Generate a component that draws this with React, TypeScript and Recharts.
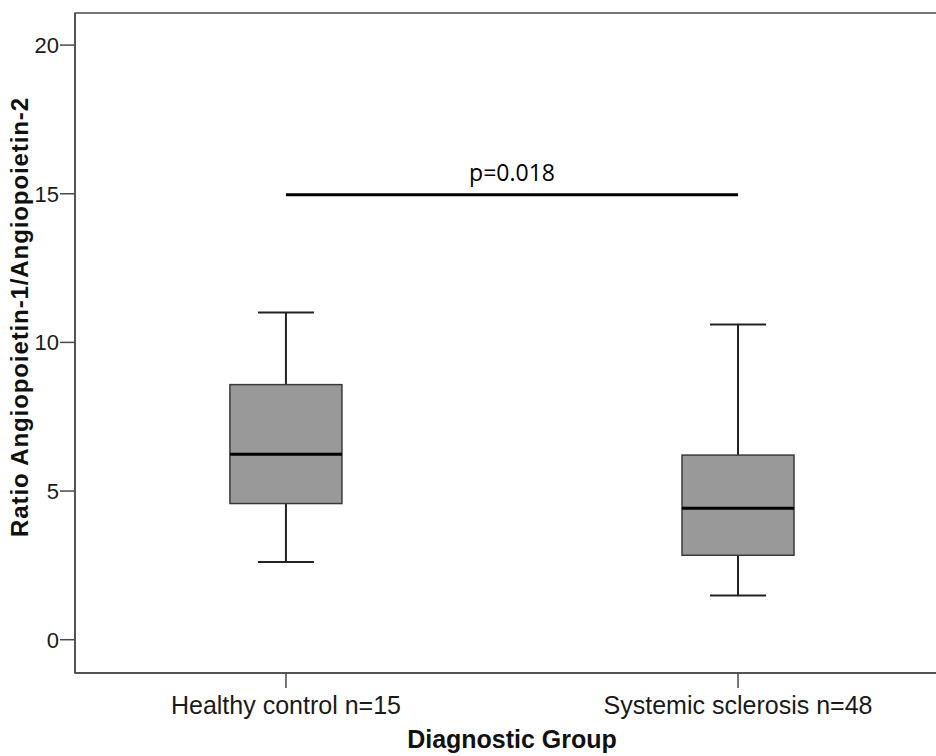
import React from 'react';
import { ComposedChart, Bar, XAxis, YAxis, ReferenceLine, ReferenceArea } from 'recharts';

// Group labels and their positions on the numeric x axis
const groups = ['Healthy control n=15', 'Systemic sclerosis n=48'];
const groupPos = [1, 2];

// Five-number summaries for each group
const whiskerLow = [2.61, 1.49];
const quartile1 = [4.58, 2.84];
const medians = [6.24, 4.42];
const quartile3 = [8.58, 6.21];
const whiskerHigh = [11.01, 10.6];

const yTicks = [0, 5, 10, 15, 20];
const yDomain: [number, number] = [-1.12, 21.08];
const xDomain: [number, number] = [0.5333, 2.4667];

// Significance bracket
const pLabel = 'p=0.018';
const bracketY = 14.97;

const data = groups.map((name, i) => ({
  name,
  x: groupPos[i],
  lo: whiskerLow[i],
  q1: quartile1[i],
  med: medians[i],
  q3: quartile3[i],
  hi: whiskerHigh[i],
}));

const AXIS = '#4a4a4a';
const TICK_FONT = 'Liberation Sans, Arial, Helvetica, sans-serif';

// Draws whiskers, box and median inside the bar spanning [lo, hi]
const BoxShape = (props: any) => {
  const { x, y, width, height } = props;
  const p = props.payload ?? props;
  const top = Math.min(y, y + height);
  const h = Math.abs(height);
  const toY = (v: number) => top + ((p.hi - v) / (p.hi - p.lo)) * h;
  const cx = x + width / 2;
  const cap = width / 4;
  const yHi = toY(p.hi);
  const yLo = toY(p.lo);
  const yQ3 = toY(p.q3);
  const yQ1 = toY(p.q1);
  const yMed = toY(p.med);
  return (
    <g>
      <line x1={cx} x2={cx} y1={yHi} y2={yQ3} stroke="#222" strokeWidth={2} />
      <line x1={cx} x2={cx} y1={yQ1} y2={yLo} stroke="#222" strokeWidth={2} />
      <line x1={cx - cap} x2={cx + cap} y1={yHi} y2={yHi} stroke="#222" strokeWidth={2} />
      <line x1={cx - cap} x2={cx + cap} y1={yLo} y2={yLo} stroke="#222" strokeWidth={2} />
      <rect x={x} y={yQ3} width={width} height={yQ1 - yQ3} fill="#999999" stroke="#3a3a3a" strokeWidth={1.5} />
      <line x1={x} x2={x + width} y1={yMed} y2={yMed} stroke="#000" strokeWidth={3} />
    </g>
  );
};

const YTitle = (props: any) => {
  const vb = props.viewBox;
  const cx = 19;
  const cy = vb.y + vb.height / 2 - 26;
  return (
    <text
      x={cx}
      y={cy}
      transform={`rotate(-90, ${cx}, ${cy})`}
      textAnchor="middle"
      dominantBaseline="central"
      fontFamily={TICK_FONT}
      fontWeight="bold"
      fontSize={24}
      letterSpacing={0.9}
      fill="#111"
    >
      Ratio Angiopoietin-1/Angiopoietin-2
    </text>
  );
};

const XTitle = (props: any) => {
  const vb = props.viewBox;
  return (
    <text
      x={512}
      y={vb.y + 75}
      textAnchor="middle"
      fontFamily={TICK_FONT}
      fontWeight="bold"
      fontSize={25}
      fill="#111"
    >
      Diagnostic Group
    </text>
  );
};

export default function App() {
  return (
    <div style={{ position: 'absolute', left: 0, top: 0, width: 936, height: 756, overflow: 'hidden', background: '#fff' }}>
      <ComposedChart width={960} height={756} data={data} margin={{ top: 13, right: 11, bottom: 0, left: 0 }}>
        <XAxis
          type="number"
          dataKey="x"
          domain={xDomain}
          ticks={groupPos}
          allowDataOverflow
          interval={0}
          height={83}
          tickSize={15}
          tickMargin={8}
          tickFormatter={(v: number) => groups[groupPos.indexOf(v)] ?? ''}
          tick={{ fontFamily: TICK_FONT, fontSize: 25, fill: '#1a1a1a' }}
          stroke={AXIS}
          strokeWidth={1.5}
          label={<XTitle />}
        />
        <YAxis
          type="number"
          domain={yDomain}
          ticks={yTicks}
          allowDataOverflow
          interval={0}
          width={75}
          tickSize={15}
          tickMargin={1}
          tick={{ fontFamily: TICK_FONT, fontSize: 22, fill: '#1a1a1a' }}
          stroke={AXIS}
          strokeWidth={1.5}
          label={<YTitle />}
        />
        <ReferenceArea
          x1={xDomain[0]}
          x2={xDomain[1]}
          y1={yDomain[0]}
          y2={yDomain[1]}
          fill="none"
          stroke={AXIS}
          strokeWidth={1.5}
          ifOverflow="visible"
        />
        <Bar
          dataKey={(d: any) => [d.lo, d.hi]}
          barSize={112}
          shape={<BoxShape />}
          isAnimationActive={false}
        />
        <ReferenceLine
          segment={[
            { x: groupPos[0], y: bracketY },
            { x: groupPos[1], y: bracketY },
          ]}
          stroke="#000"
          strokeWidth={3}
          label={{
            value: pLabel,
            position: 'top',
            offset: 14,
            fontFamily: 'Open Sans, sans-serif',
            fontSize: 23,
            fill: '#000',
          }}
        />
      </ComposedChart>
    </div>
  );
}
